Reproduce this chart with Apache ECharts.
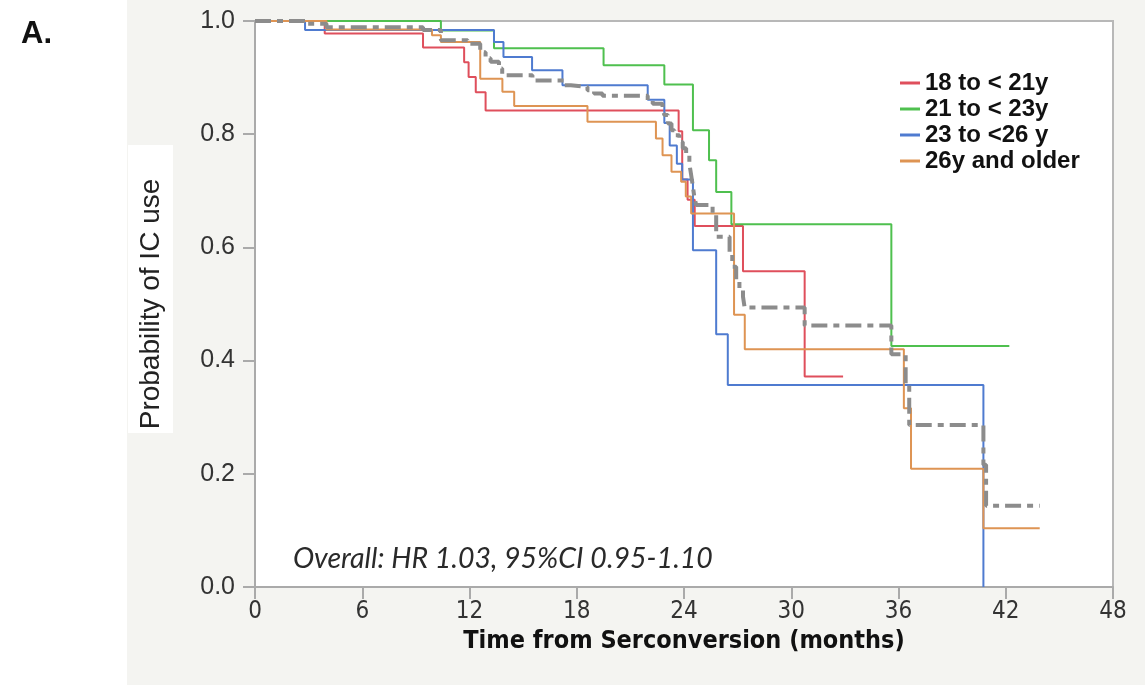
<!DOCTYPE html>
<html>
<head>
<meta charset="utf-8">
<script src="https://cdn.jsdelivr.net/npm/echarts@6/dist/echarts.min.js"></script>
<style>
html, body { margin: 0; padding: 0; background: #fff; }
#chart { width: 1145px; height: 685px; }
</style>
</head>
<body>
<div id="chart"></div>
<script>
// Kaplan-Meier steps: value holds from time[i] until time[i+1]
var groupNames = ['18 to < 21y', '21 to < 23y', '23 to <26 y', '26y and older']

var redTimes = [0, 3.9, 9.4, 11.7, 11.95, 12.35, 12.9, 23.7, 23.9, 24.2, 24.6, 27.3, 30.75, 32.9]
var redValues = [1, 0.978, 0.953, 0.927, 0.901, 0.874, 0.842, 0.805, 0.72, 0.684, 0.638, 0.558, 0.372, 0.372]

var greenTimes = [0, 10.4, 13.37, 19.5, 22.9, 24.5, 25.4, 25.8, 26.65, 35.6, 42.2]
var greenValues = [1, 0.983, 0.952, 0.922, 0.888, 0.807, 0.754, 0.698, 0.641, 0.426, 0.426]

var blueTimes = [0, 2.8, 13.37, 13.9, 15.5, 17.2, 21.97, 22.9, 23.2, 23.6, 23.9, 24.5, 25.8, 26.45, 40.75]
var blueValues = [1, 0.984, 0.963, 0.9365, 0.913, 0.8865, 0.861, 0.82, 0.78, 0.748, 0.72, 0.595, 0.4465, 0.357, 0]

var orangeTimes = [0, 4.0, 9.9, 10.4, 12.6, 13.84, 14.5, 18.6, 22.43, 22.8, 23.3, 23.84, 24.1, 24.4, 26.8, 27.4, 36.3, 36.7, 40.75, 43.9]
var orangeValues = [1, 0.985, 0.975, 0.963, 0.898, 0.875, 0.85, 0.822, 0.7925, 0.763, 0.7335, 0.716, 0.69, 0.66, 0.481, 0.42, 0.316, 0.209, 0.104, 0.104]

var overallTimes = [0, 2.8, 4.0, 9.4, 10.4, 11.9, 12.6, 12.9, 13.18, 13.65, 13.83, 15.52, 17.3, 17.67, 18.6, 18.97, 19.44, 21.97, 22.25, 22.8, 22.9, 23.1, 23.3, 23.46, 23.74, 23.93, 24.12, 24.3, 24.4, 24.5, 24.58, 24.68, 25.6, 25.8, 26.55, 26.7, 26.92, 27.1, 27.3, 27.39, 30.75, 35.6, 36.4, 36.6, 40.75, 40.9, 43.9]
var overallValues = [1, 0.995, 0.989, 0.984, 0.966, 0.96, 0.945, 0.934, 0.928, 0.916, 0.904, 0.895, 0.8865, 0.8835, 0.8777, 0.872, 0.868, 0.86, 0.854, 0.845, 0.834, 0.819, 0.807, 0.798, 0.786, 0.775, 0.763, 0.748, 0.728, 0.707, 0.689, 0.675, 0.657, 0.619, 0.589, 0.566, 0.542, 0.528, 0.513, 0.494, 0.462, 0.411, 0.357, 0.286, 0.216, 0.1435, 0.1435]

function pairs (times, values) {
  return times.map(function (t, i) { return [t, values[i]] })
}

function kmSeries (name, times, values, color) {
  return {
    name: name,
    type: 'line',
    step: 'end',
    showSymbol: false,
    symbol: 'none',
    silent: true,
    data: pairs(times, values),
    lineStyle: { color: color, width: 2 },
    itemStyle: { color: color }
  }
}

var chart = echarts.init(document.getElementById('chart'))
chart.setOption({
  animation: false,
  backgroundColor: '#fff',
  graphic: [{
    type: 'rect',
    z: -10,
    shape: { x: 127, y: 0, width: 1018, height: 685 },
    style: { fill: '#f4f4f1' }
  }, {
    // white box behind the y axis title
    type: 'rect',
    z: -9,
    shape: { x: 128, y: 145, width: 45, height: 288 },
    style: { fill: '#fff' }
  }, {
    type: 'text',
    left: 21,
    top: 19,
    style: { text: 'A.', font: 'bold 31px "Liberation Sans", Arial, sans-serif', fill: '#111' }
  }, {
    type: 'text',
    left: 293,
    top: 544,
    z: 10,
    style: {
      text: 'Overall: HR 1.03, 95%CI 0.95-1.10',
      font: 'italic 28.5px Lato, "Open Sans", sans-serif',
      fill: '#2a2a2a'
    }
  }],
  grid: {
    left: 255,
    right: 32,
    top: 21,
    bottom: 98,
    show: true,
    backgroundColor: '#fff',
    borderColor: '#b8b8b8',
    borderWidth: 2
  },
  legend: {
    data: groupNames,
    orient: 'vertical',
    left: 895,
    top: 66,
    itemWidth: 20,
    itemHeight: 3,
    itemGap: 2,
    icon: 'rect',
    textStyle: {
      fontFamily: '"Liberation Sans", Arial, sans-serif',
      fontWeight: 'bold',
      fontSize: 24,
      lineHeight: 24,
      color: '#111'
    }
  },
  xAxis: {
    type: 'value',
    min: 0,
    max: 48,
    interval: 6,
    name: 'Time from Serconversion (months)',
    nameLocation: 'middle',
    nameGap: 35,
    nameTextStyle: {
      fontFamily: '"Liberation Sans Narrow", "DejaVu Sans Condensed", "Liberation Sans", sans-serif',
      fontWeight: 'bold',
      fontSize: 25,
      color: '#111'
    },
    axisLine: { lineStyle: { color: '#aaaaaa', width: 2 } },
    axisTick: { show: true, length: 12, lineStyle: { color: '#aaaaaa', width: 2 } },
    axisLabel: {
      margin: 13,
      fontFamily: '"Liberation Sans Narrow", "DejaVu Sans Condensed", "Liberation Sans", sans-serif',
      fontSize: 24,
      color: '#333'
    },
    splitLine: { show: false }
  },
  yAxis: {
    type: 'value',
    min: 0,
    max: 1,
    interval: 0.2,
    name: 'Probability of IC use',
    nameLocation: 'middle',
    nameGap: 90,
    nameTextStyle: {
      fontFamily: '"Liberation Sans", Arial, sans-serif',
      fontSize: 28,
      color: '#222'
    },
    axisLine: { show: true, lineStyle: { color: '#aaaaaa', width: 2 } },
    axisTick: { show: true, length: 12, lineStyle: { color: '#aaaaaa', width: 2 } },
    axisLabel: {
      margin: 20,
      fontFamily: '"Liberation Sans", Arial, sans-serif',
      fontSize: 25,
      color: '#333',
      formatter: function (v) { return v.toFixed(1) }
    },
    splitLine: { show: false }
  },
  series: [
    kmSeries(groupNames[0], redTimes, redValues, '#df4f5c'),
    kmSeries(groupNames[1], greenTimes, greenValues, '#4fc04f'),
    kmSeries(groupNames[2], blueTimes, blueValues, '#4f7bd0'),
    kmSeries(groupNames[3], orangeTimes, orangeValues, '#de9453'),
    {
      name: 'Overall',
      type: 'line',
      step: 'end',
      symbol: 'none',
      silent: true,
      z: 5,
      data: pairs(overallTimes, overallValues),
      lineStyle: { color: '#8c8c8c', width: 4, type: [16, 6, 6, 6] }
    }
  ]
})
</script>
</body>
</html>
